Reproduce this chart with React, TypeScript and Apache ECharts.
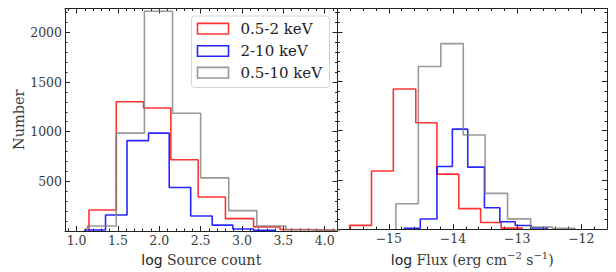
import React, { useEffect, useRef } from "react";
import * as echarts from "echarts";

// ---- legend / bands ----
const bandNames = ["0.5-2 keV", "2-10 keV", "0.5-10 keV"];
const bandColors = ["rgba(255,0,0,0.8)", "rgba(0,0,255,0.85)", "rgba(128,128,128,0.8)"];

// ---- left panel: log Source count (bin edges + counts) ----
const countEdgesSoft = [1.15, 1.48, 1.81, 2.14, 2.47, 2.8, 3.14, 3.46, 3.8, 4.13];
const countHistSoft = [211, 1301, 1239, 718, 342, 125, 42, 15, 8];
const countEdgesHard = [1.1, 1.35, 1.61, 1.87, 2.12, 2.38, 2.64, 2.89, 3.14, 3.4];
const countHistHard = [10, 161, 910, 985, 438, 151, 59, 20, 6];
const countEdgesFull = [1.13, 1.48, 1.82, 2.16, 2.5, 2.84, 3.18, 3.53, 3.87, 4.21];
const countHistFull = [50, 985, 2212, 1185, 535, 205, 50, 12, 5];

// ---- right panel: log Flux ----
const fluxEdgesSoft = [-15.61, -15.27, -14.93, -14.58, -14.25, -13.91, -13.57, -13.25, -12.92];
const fluxHistSoft = [38, 590, 1422, 1080, 558, 208, 67, 10];
const fluxEdgesHard = [-14.76, -14.51, -14.25, -14.01, -13.77, -13.51, -13.27, -13.03, -12.78, -12.53];
const fluxHistHard = [8, 102, 636, 1015, 629, 217, 75, 36, 12];
const fluxEdgesFull = [-14.89, -14.54, -14.19, -13.84, -13.5, -13.15, -12.79, -12.45, -12.1];
const fluxHistFull = [258, 1651, 1883, 955, 363, 104, 20, 8];

// ---- axes ----
const countTicks = [500, 1000, 1500, 2000];
const countRange = [0, 2240];
const srcRange = [0.86, 4.155];
const fluxRange = [-15.8, -11.6];

const SERIF = "DejaVu Serif";
const SANS = "DejaVu Sans";
const INK = "#222";
const TXT = "#3a3a3a";

function stepPoints(edges: number[], counts: number[]) {
  const pts: number[][] = [[edges[0], 0]];
  counts.forEach((c, i) => {
    pts.push([edges[i], c]);
    pts.push([edges[i + 1], c]);
  });
  pts.push([edges[edges.length - 1], 0]);
  return pts;
}

function axisBase(extra: any) {
  return {
    type: "value",
    axisLine: { show: true, onZero: false, lineStyle: { color: INK, width: 1 } },
    axisTick: { show: true, inside: true, length: 5, lineStyle: { color: INK, width: 1 } },
    minorTick: { show: true, splitNumber: 5, length: 2.5, lineStyle: { color: INK, width: 1 } },
    splitLine: { show: false },
    minorSplitLine: { show: false },
    ...extra,
  };
}

const tickFont = { fontFamily: SERIF, fontSize: 12.5, color: TXT };

const App: React.FC = () => {
  const ref = useRef<HTMLDivElement>(null);
  useEffect(() => {
    if (!ref.current) return;
    const chart = echarts.init(ref.current, undefined, { renderer: "svg" });

    const srcFmt = (v: number) => (Math.abs(v * 2 - Math.round(v * 2)) < 1e-6 ? v.toFixed(1) : "");
    const fluxFmt = (v: number) =>
      Math.abs(v - Math.round(v)) < 1e-6 ? (v < 0 ? "\u2212" + Math.abs(Math.round(v)) : String(Math.round(v))) : "";
    const cntFmt = (v: number) => (countTicks.indexOf(Math.round(v)) >= 0 && Math.abs(v - Math.round(v)) < 1e-6 ? String(Math.round(v)) : "");

    const nameStyle = {
      fontFamily: SERIF,
      fontSize: 14,
      color: TXT,
      rich: {
        lg: { fontFamily: SANS, fontSize: 14, color: "#222" },
        sup: { fontFamily: SERIF, fontSize: 10, color: TXT, verticalAlign: "top", lineHeight: 10 },
        n: { fontFamily: SERIF, fontSize: 14, color: TXT, lineHeight: 20 },
      },
    };

    const xAxes = [
      axisBase({
        gridIndex: 0, position: "bottom", min: srcRange[0], max: srcRange[1], splitNumber: 7,
        axisLabel: { ...tickFont, margin: 3, showMinLabel: false, showMaxLabel: false, formatter: srcFmt },
        name: "{lg|log}{n| Source count}", nameLocation: "middle", nameGap: 19, nameTextStyle: nameStyle,
      }),
      axisBase({
        gridIndex: 0, position: "top", min: srcRange[0], max: srcRange[1], splitNumber: 7,
        axisLabel: { show: false },
      }),
      axisBase({
        gridIndex: 1, position: "bottom", min: fluxRange[0], max: fluxRange[1], splitNumber: 4,
        axisLabel: { ...tickFont, margin: 3, showMinLabel: false, showMaxLabel: false, formatter: fluxFmt },
        name: "{lg|log}{n| Flux (erg cm}{sup|\u22122}{n| s}{sup|\u22121}{n|)}", nameLocation: "middle", nameGap: 17,
        nameTextStyle: nameStyle,
      }),
      axisBase({
        gridIndex: 1, position: "top", min: fluxRange[0], max: fluxRange[1], splitNumber: 4,
        axisLabel: { show: false },
      }),
    ];

    const yAxes = [
      axisBase({
        gridIndex: 0, position: "left", min: countRange[0], max: countRange[1], splitNumber: 4,
        axisLabel: { ...tickFont, margin: 3, showMinLabel: false, showMaxLabel: false, formatter: cntFmt },
        name: "Number", nameLocation: "middle", nameGap: 39, nameTextStyle: { fontFamily: SERIF, fontSize: 14.5, color: TXT },
      }),
      axisBase({
        gridIndex: 0, position: "right", min: countRange[0], max: countRange[1], splitNumber: 4,
        axisLabel: { show: false },
      }),
      axisBase({
        gridIndex: 1, position: "left", min: countRange[0], max: countRange[1], splitNumber: 4,
        axisLabel: { show: false },
      }),
      axisBase({
        gridIndex: 1, position: "right", min: countRange[0], max: countRange[1], splitNumber: 4,
        axisLabel: { show: false },
      }),
    ];

    const panels = [
      { x: 0, y: 0, sets: [[countEdgesSoft, countHistSoft], [countEdgesHard, countHistHard], [countEdgesFull, countHistFull]] },
      { x: 2, y: 2, sets: [[fluxEdgesSoft, fluxHistSoft], [fluxEdgesHard, fluxHistHard], [fluxEdgesFull, fluxHistFull]] },
    ];
    const series: any[] = [];
    panels.forEach((p) => {
      p.sets.forEach((s, i) => {
        series.push({
          type: "line",
          name: bandNames[i],
          xAxisIndex: p.x,
          yAxisIndex: p.y,
          data: stepPoints(s[0], s[1]),
          showSymbol: false,
          symbol: "none",
          clip: true,
          lineStyle: { color: bandColors[i], width: 1.6 },
          itemStyle: { color: bandColors[i] },
          z: 2 + i,
        });
      });
    });

    const legendRows = [28.7, 51, 72.7];
    const graphic: any[] = [
      {
        type: "rect", z: 100,
        shape: { x: 191.5, y: 16, width: 138, height: 71.5, r: 3 },
        style: { fill: "rgba(255,255,255,0.85)", stroke: "#d4d4d4", lineWidth: 1 },
      },
    ];
    bandNames.forEach((nm, i) => {
      graphic.push({
        type: "rect", z: 101,
        shape: { x: 197.5, y: legendRows[i] - 5.3, width: 31, height: 10.6 },
        style: { fill: "none", stroke: bandColors[i], lineWidth: 1.6 },
      });
      graphic.push({
        type: "text", z: 101, x: 240.5, y: legendRows[i],
        style: { text: nm, fontFamily: SERIF, fontSize: 15, fill: "#222", verticalAlign: "middle", align: "left" },
      });
    });

    chart.setOption({
      animation: false,
      backgroundColor: "#fff",
      grid: [
        { left: 65, top: 8.5, width: 272.5, height: 226.5 },
        { left: 337.5, top: 8.5, width: 269.5, height: 226.5 },
      ],
      xAxis: xAxes,
      yAxis: yAxes,
      series,
      graphic,
    });
    return () => chart.dispose();
  }, []);
  return <div ref={ref} style={{ position: "fixed", left: 0, top: 0, width: 616, height: 272, background: "#fff" }} />;
};

export default App;
